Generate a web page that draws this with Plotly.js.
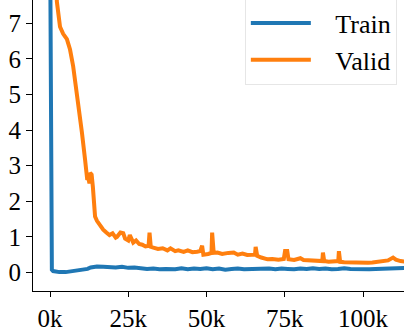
<!DOCTYPE html>
<html>
<head>
<meta charset="utf-8">
<script src="https://cdn.plot.ly/plotly-3.0.1.min.js"></script>
<style>
  body { margin: 0; background: #fff; }
  #loss-plot { width: 404px; height: 331px; }
  #loss-plot text { font-family: "Liberation Serif", "Times New Roman", serif !important; }
</style>
</head>
<body>
<div id="loss-plot"></div>
<script>
// training steps are in thousands
var trainSteps = [0, 0.3, 0.6, 1, 2, 3, 5, 7, 9, 10, 11, 12, 13, 15, 17, 19, 21, 23, 25, 27, 29, 31,
  33, 35, 37, 40, 42, 44, 46, 48, 50, 52, 54, 56, 58, 60, 62, 64, 66, 68, 70, 72, 74, 76, 78,
  80, 82, 84, 86, 88, 90, 92, 94, 96, 98, 100, 102, 104, 106, 108, 110, 112, 114];
var trainLoss = [10, 4, 0.08, 0.04, 0.02, 0.01, 0.01, 0.03, 0.06, 0.07, 0.09, 0.10, 0.14, 0.17, 0.16,
  0.15, 0.14, 0.16, 0.13, 0.14, 0.12, 0.10, 0.11, 0.09, 0.10, 0.09, 0.12, 0.09, 0.11, 0.10, 0.12,
  0.09, 0.11, 0.08, 0.10, 0.11, 0.09, 0.10, 0.09, 0.10, 0.11, 0.09, 0.11, 0.10, 0.09, 0.11, 0.10,
  0.12, 0.10, 0.11, 0.09, 0.10, 0.12, 0.10, 0.09, 0.08, 0.09, 0.10, 0.11, 0.12, 0.13, 0.12, 0.13];

var validSteps = [1.2, 2.2, 3.2, 4.2, 5.4, 6.4, 7.4, 8.2, 9, 10.2, 11.2, 11.9, 12.3, 12.6, 12.8, 13.3,
  13.7, 14.4, 15, 16, 17, 18, 19, 20, 21, 21.4, 22, 22.5, 23.4, 24, 25, 25.5, 26.6, 27.5, 28.5,
  29.5, 30.5, 31.5, 31.8, 32.2, 33, 34.5, 36, 37.5, 38.5, 40, 41, 42.7, 44, 45.5, 47, 48, 48.6, 49,
  50.5, 51.6, 51.8, 52.3, 53.5, 55, 57, 58.7, 60, 61.5, 63, 64.5, 65.5, 65.7, 66.2, 67.5, 69.5,
  71, 73, 74.7, 75.1, 75.8, 76.2, 78, 80, 81, 83, 85.6, 87, 87.2, 87.6, 89, 90.7, 92.1, 92.3,
  92.7, 94, 96, 98, 100, 101.6, 103, 105, 106.7, 108, 109.6, 110.5, 112, 114];
var validLoss = [10, 7.6, 6.9, 6.7, 6.55, 6.26, 5.79, 5.3, 4.86, 3.93, 3.17, 2.6, 2.65, 2.5, 2.8, 2.75,
  2.4, 1.57, 1.45, 1.3, 1.2, 1.12, 1.05, 1.1, 0.98, 1.0, 1.05, 1.12, 1.1, 0.95, 0.9, 1.05, 0.84,
  0.9, 0.8, 0.78, 0.73, 0.75, 1.12, 0.72, 0.7, 0.66, 0.68, 0.62, 0.68, 0.6, 0.62, 0.58, 0.62,
  0.57, 0.58, 0.6, 0.75, 0.5, 0.52, 0.55, 1.12, 0.55, 0.56, 0.52, 0.55, 0.56, 0.5, 0.53, 0.49,
  0.48, 0.5, 0.72, 0.47, 0.42, 0.37, 0.38, 0.36, 0.38, 0.6, 0.6, 0.37, 0.35, 0.4, 0.35, 0.34,
  0.31, 0.32, 0.56, 0.32, 0.3, 0.3, 0.32, 0.6, 0.3, 0.29, 0.28, 0.28, 0.27, 0.27, 0.28, 0.3,
  0.31, 0.34, 0.42, 0.36, 0.32, 0.3];

var xTicks = [0, 25, 50, 75, 100];
var xTickText = ['0k', '25k', '50k', '75k', '100k'];
var yTicks = [0, 1, 2, 3, 4, 5, 6, 7];

var serif = 'Liberation Serif';

var trace1 = {
  x: trainSteps,
  y: trainLoss,
  mode: 'lines',
  type: 'scatter',
  name: '\u00a0\u00a0\u00a0Train',
  line: { color: '#1f77b4', width: 4 }
};

var trace2 = {
  x: validSteps,
  y: validLoss,
  mode: 'lines',
  type: 'scatter',
  name: '\u00a0\u00a0\u00a0Valid',
  line: { color: '#ff7f0e', width: 4 }
};

var layout = {
  width: 404,
  height: 331,
  margin: { l: 33, r: 0, t: 0, b: 40, autoexpand: false },
  paper_bgcolor: '#fff',
  plot_bgcolor: '#fff',
  font: { family: serif, size: 25, color: '#000' },
  xaxis: {
    range: [-5.43, 113.1],
    tickvals: xTicks,
    ticktext: xTickText,
    showgrid: false,
    zeroline: false,
    showline: true,
    linecolor: '#000',
    linewidth: 1,
    ticks: 'outside',
    ticklen: 5,
    tickcolor: '#000'
  },
  yaxis: {
    range: [-0.52, 7.65],
    tickvals: yTicks,
    showgrid: false,
    zeroline: false,
    showline: true,
    linecolor: '#000',
    linewidth: 1,
    ticks: 'outside',
    ticklen: 6,
    tickcolor: '#000'
  },
  showlegend: true,
  legend: {
    x: 0.571,
    xanchor: 'left',
    y: 1.005,
    yanchor: 'top',
    bgcolor: '#fff',
    bordercolor: '#e6e6e6',
    borderwidth: 1,
    itemwidth: 60,
    font: { size: 26 }
  }
};

Plotly.newPlot('loss-plot', [trace1, trace2], layout, { staticPlot: true });
</script>
</body>
</html>
